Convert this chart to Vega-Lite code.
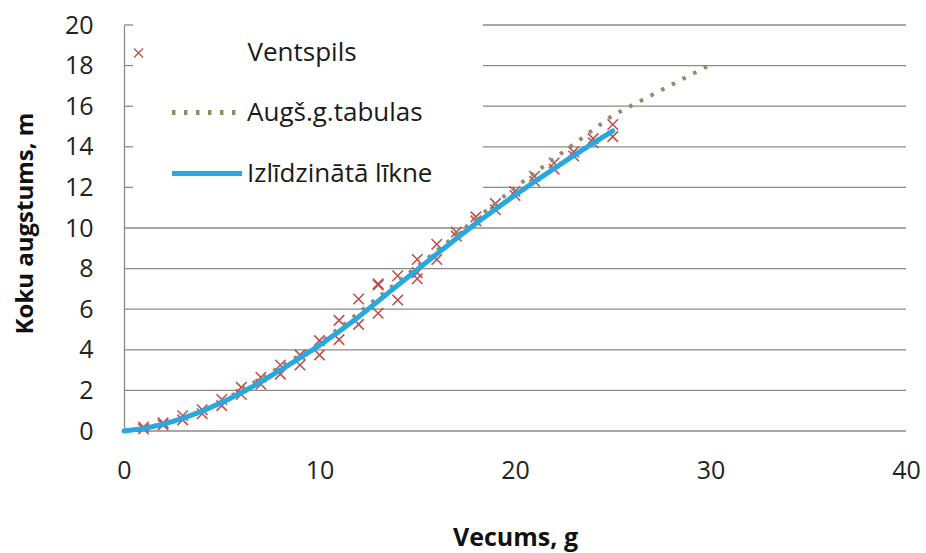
{
  "$schema": "https://vega.github.io/schema/vega-lite/v6.json",
  "width": 782,
  "height": 406,
  "autosize": {"type": "none"},
  "padding": {"left": 124, "top": 25, "right": 20, "bottom": 122},
  "background": "white",
  "config": {
    "view": {"stroke": null},
    "font": "Open Sans",
    "axisX": {
      "grid": false, "domain": false, "ticks": false, "labelFlush": false,
      "labelPadding": 27, "labelFontSize": 25, "labelColor": "#222222",
      "titleFontSize": 25, "titleFontWeight": "bold", "titleColor": "#111111",
      "titleY": 94, "titleBaseline": "top"
    },
    "axisY": {
      "grid": false, "domain": true, "domainColor": "#8a8a8a", "domainWidth": 1.3,
      "ticks": false, "labelPadding": 31, "labelFontSize": 25, "labelColor": "#222222",
      "titleFontSize": 24, "titleFontWeight": "bold", "titleColor": "#111111",
      "titleX": -99, "titleY": 198, "titleBaseline": "middle", "titleAlign": "center"
    }
  },
  "datasets": {
    "gridA": [{"h": 0}, {"h": 2}, {"h": 4}, {"h": 6}, {"h": 8}, {"h": 10}],
    "gridB": [{"h": 12}, {"h": 14}, {"h": 16}, {"h": 18}, {"h": 20}],
    "vent": [
      {"age": 1, "h": 0.1, "series": "Ventspils"}, {"age": 1, "h": 0.2, "series": "Ventspils"},
      {"age": 2, "h": 0.3, "series": "Ventspils"}, {"age": 2, "h": 0.4, "series": "Ventspils"},
      {"age": 3, "h": 0.55, "series": "Ventspils"}, {"age": 3, "h": 0.75, "series": "Ventspils"},
      {"age": 4, "h": 0.85, "series": "Ventspils"}, {"age": 4, "h": 1.05, "series": "Ventspils"},
      {"age": 5, "h": 1.25, "series": "Ventspils"}, {"age": 5, "h": 1.55, "series": "Ventspils"},
      {"age": 6, "h": 1.8, "series": "Ventspils"}, {"age": 6, "h": 2.15, "series": "Ventspils"},
      {"age": 7, "h": 2.3, "series": "Ventspils"}, {"age": 7, "h": 2.65, "series": "Ventspils"},
      {"age": 8, "h": 2.8, "series": "Ventspils"}, {"age": 8, "h": 3.25, "series": "Ventspils"},
      {"age": 9, "h": 3.25, "series": "Ventspils"}, {"age": 9, "h": 3.75, "series": "Ventspils"},
      {"age": 10, "h": 3.75, "series": "Ventspils"}, {"age": 10, "h": 4.45, "series": "Ventspils"},
      {"age": 11, "h": 4.5, "series": "Ventspils"}, {"age": 11, "h": 5.45, "series": "Ventspils"},
      {"age": 12, "h": 5.25, "series": "Ventspils"}, {"age": 12, "h": 6.5, "series": "Ventspils"},
      {"age": 13, "h": 5.8, "series": "Ventspils"}, {"age": 13, "h": 7.2, "series": "Ventspils"}, {"age": 13, "h": 7.25, "series": "Ventspils"},
      {"age": 14, "h": 6.45, "series": "Ventspils"}, {"age": 14, "h": 7.65, "series": "Ventspils"},
      {"age": 15, "h": 7.5, "series": "Ventspils"}, {"age": 15, "h": 7.8, "series": "Ventspils"}, {"age": 15, "h": 8.45, "series": "Ventspils"},
      {"age": 16, "h": 8.45, "series": "Ventspils"}, {"age": 16, "h": 9.2, "series": "Ventspils"},
      {"age": 17, "h": 9.6, "series": "Ventspils"}, {"age": 17, "h": 9.8, "series": "Ventspils"},
      {"age": 18, "h": 10.35, "series": "Ventspils"}, {"age": 18, "h": 10.55, "series": "Ventspils"},
      {"age": 19, "h": 10.9, "series": "Ventspils"}, {"age": 19, "h": 11.2, "series": "Ventspils"},
      {"age": 20, "h": 11.6, "series": "Ventspils"}, {"age": 20, "h": 11.8, "series": "Ventspils"},
      {"age": 21, "h": 12.3, "series": "Ventspils"}, {"age": 21, "h": 12.55, "series": "Ventspils"},
      {"age": 22, "h": 12.9, "series": "Ventspils"}, {"age": 22, "h": 13.2, "series": "Ventspils"},
      {"age": 23, "h": 13.55, "series": "Ventspils"}, {"age": 23, "h": 13.75, "series": "Ventspils"},
      {"age": 24, "h": 14.2, "series": "Ventspils"}, {"age": 24, "h": 14.4, "series": "Ventspils"},
      {"age": 25, "h": 14.5, "series": "Ventspils"}, {"age": 25, "h": 15.1, "series": "Ventspils"}
    ],
    "tab": [
      {"age": 5, "h": 1.45, "series": "Augš.g.tabulas"},
      {"age": 10, "h": 4.3, "series": "Augš.g.tabulas"},
      {"age": 15, "h": 8.1, "series": "Augš.g.tabulas"},
      {"age": 20, "h": 12.0, "series": "Augš.g.tabulas"},
      {"age": 25, "h": 15.55, "series": "Augš.g.tabulas"},
      {"age": 30, "h": 18.05, "series": "Augš.g.tabulas"}
    ],
    "fit": [
      {"age": 0, "h": 0, "series": "Izlīdzinātā līkne"},
      {"age": 1, "h": 0.12, "series": "Izlīdzinātā līkne"},
      {"age": 2, "h": 0.33, "series": "Izlīdzinātā līkne"},
      {"age": 3, "h": 0.62, "series": "Izlīdzinātā līkne"},
      {"age": 4, "h": 0.98, "series": "Izlīdzinātā līkne"},
      {"age": 5, "h": 1.4, "series": "Izlīdzinātā līkne"},
      {"age": 6, "h": 1.88, "series": "Izlīdzinātā līkne"},
      {"age": 7, "h": 2.42, "series": "Izlīdzinātā līkne"},
      {"age": 8, "h": 3.0, "series": "Izlīdzinātā līkne"},
      {"age": 9, "h": 3.6, "series": "Izlīdzinātā līkne"},
      {"age": 10, "h": 4.22, "series": "Izlīdzinātā līkne"},
      {"age": 11, "h": 4.9, "series": "Izlīdzinātā līkne"},
      {"age": 12, "h": 5.62, "series": "Izlīdzinātā līkne"},
      {"age": 13, "h": 6.4, "series": "Izlīdzinātā līkne"},
      {"age": 14, "h": 7.18, "series": "Izlīdzinātā līkne"},
      {"age": 15, "h": 7.95, "series": "Izlīdzinātā līkne"},
      {"age": 16, "h": 8.72, "series": "Izlīdzinātā līkne"},
      {"age": 17, "h": 9.48, "series": "Izlīdzinātā līkne"},
      {"age": 18, "h": 10.22, "series": "Izlīdzinātā līkne"},
      {"age": 19, "h": 10.93, "series": "Izlīdzinātā līkne"},
      {"age": 20, "h": 11.62, "series": "Izlīdzinātā līkne"},
      {"age": 21, "h": 12.28, "series": "Izlīdzinātā līkne"},
      {"age": 22, "h": 12.93, "series": "Izlīdzinātā līkne"},
      {"age": 23, "h": 13.57, "series": "Izlīdzinātā līkne"},
      {"age": 24, "h": 14.18, "series": "Izlīdzinātā līkne"},
      {"age": 25, "h": 14.78, "series": "Izlīdzinātā līkne"}
    ]
  },
  "layer": [
    {
      "data": {"name": "gridA"},
      "mark": {"type": "rule", "color": "#8a8a8a", "strokeWidth": 1.3},
      "encoding": {
        "y": {"field": "h", "type": "quantitative", "scale": {"domain": [0, 20], "nice": false},
              "axis": {"title": "Koku augstums, m", "values": [0, 2, 4, 6, 8, 10, 12, 14, 16, 18, 20]}}
      }
    },
    {
      "data": {"name": "gridB"},
      "mark": {"type": "rule", "color": "#8a8a8a", "strokeWidth": 1.3},
      "encoding": {
        "y": {"field": "h", "type": "quantitative", "scale": {"domain": [0, 20], "nice": false},
              "axis": {"title": "Koku augstums, m", "values": [0, 2, 4, 6, 8, 10, 12, 14, 16, 18, 20]}},
        "x": {"datum": 18.36, "type": "quantitative", "scale": {"domain": [0, 40], "nice": false},
              "axis": {"title": "Vecums, g", "values": [0, 10, 20, 30, 40]}},
        "x2": {"datum": 40}
      }
    },
    {
      "data": {"name": "gridB"},
      "mark": {"type": "rule", "color": "#8a8a8a", "strokeWidth": 1.3},
      "encoding": {
        "y": {"field": "h", "type": "quantitative", "scale": {"domain": [0, 20], "nice": false},
              "axis": {"title": "Koku augstums, m", "values": [0, 2, 4, 6, 8, 10, 12, 14, 16, 18, 20]}},
        "x": {"datum": 0, "type": "quantitative", "scale": {"domain": [0, 40], "nice": false},
              "axis": {"title": "Vecums, g", "values": [0, 10, 20, 30, 40]}},
        "x2": {"datum": 0.46}
      }
    },
    {
      "data": {"name": "vent"},
      "mark": {"type": "point", "filled": false, "color": "#c0504d", "size": 110, "strokeWidth": 1.6, "opacity": 1},
      "encoding": {
        "x": {"field": "age", "type": "quantitative", "scale": {"domain": [0, 40], "nice": false},
              "axis": {"title": "Vecums, g", "values": [0, 10, 20, 30, 40]}},
        "y": {"field": "h", "type": "quantitative", "scale": {"domain": [0, 20], "nice": false},
              "axis": {"title": "Koku augstums, m", "values": [0, 2, 4, 6, 8, 10, 12, 14, 16, 18, 20]}},
        "shape": {
          "field": "series", "type": "nominal",
          "scale": {"domain": ["Ventspils"], "range": ["M-1,-1L1,1M1,-1L-1,1"]},
          "legend": {
            "title": null, "orient": "none", "legendX": 1.5, "legendY": 15, "padding": 0,
            "labelFontSize": 26, "labelColor": "#1a1a1a", "labelFont": "Open Sans", "labelLimit": 500,
            "labelOffset": 96, "symbolSize": 80, "symbolStrokeWidth": 1.3
          }
        }
      }
    },
    {
      "data": {"name": "tab"},
      "mark": {"type": "line", "strokeWidth": 4},
      "encoding": {
        "x": {"field": "age", "type": "quantitative", "scale": {"domain": [0, 40], "nice": false},
              "axis": {"title": "Vecums, g", "values": [0, 10, 20, 30, 40]}},
        "y": {"field": "h", "type": "quantitative", "scale": {"domain": [0, 20], "nice": false},
              "axis": {"title": "Koku augstums, m", "values": [0, 2, 4, 6, 8, 10, 12, 14, 16, 18, 20]}},
        "color": {
          "field": "series", "type": "nominal",
          "scale": {"domain": ["Augš.g.tabulas", "Izlīdzinātā līkne"], "range": ["#8f8d63", "#29a8df"]},
          "legend": {
            "title": null, "orient": "none", "legendX": 45.5, "legendY": 50, "padding": 0,
            "labelFontSize": 26, "labelColor": "#1a1a1a", "labelFont": "Open Sans", "labelLimit": 500,
            "labelOffset": 2.5, "rowPadding": 10, "symbolSize": 4900, "symbolStrokeWidth": 5
          }
        },
        "strokeDash": {
          "field": "series", "type": "nominal",
          "scale": {"domain": ["Augš.g.tabulas", "Izlīdzinātā līkne"], "range": [[3.5, 8.5], [1, 0]]},
          "legend": {
            "title": null, "orient": "none", "legendX": 45.5, "legendY": 50, "padding": 0,
            "labelFontSize": 26, "labelColor": "#1a1a1a", "labelFont": "Open Sans", "labelLimit": 500,
            "labelOffset": 2.5, "rowPadding": 10, "symbolSize": 4900, "symbolStrokeWidth": 5
          }
        }
      }
    },
    {
      "data": {"name": "fit"},
      "mark": {"type": "line", "strokeWidth": 5, "strokeCap": "round"},
      "encoding": {
        "x": {"field": "age", "type": "quantitative", "scale": {"domain": [0, 40], "nice": false},
              "axis": {"title": "Vecums, g", "values": [0, 10, 20, 30, 40]}},
        "y": {"field": "h", "type": "quantitative", "scale": {"domain": [0, 20], "nice": false},
              "axis": {"title": "Koku augstums, m", "values": [0, 2, 4, 6, 8, 10, 12, 14, 16, 18, 20]}},
        "color": {"field": "series", "type": "nominal"},
        "strokeDash": {"field": "series", "type": "nominal"}
      }
    }
  ]
}
